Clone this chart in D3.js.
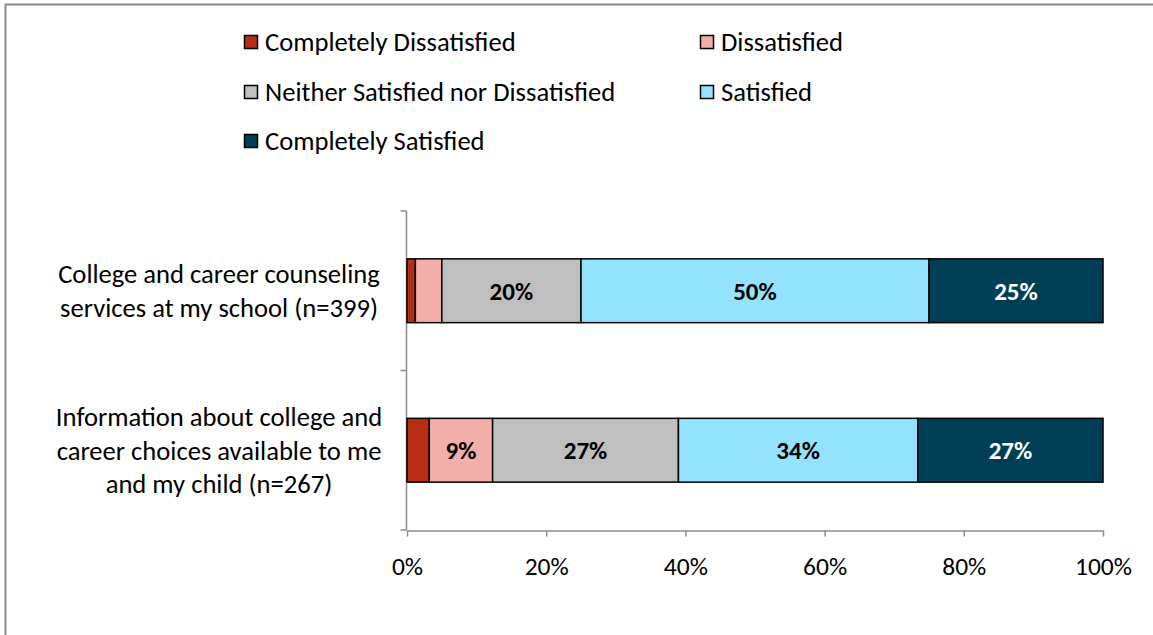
<!DOCTYPE html>
<html><head><meta charset="utf-8">
<script src="https://cdn.jsdelivr.net/npm/d3@7"></script>
<style>body{margin:0;background:#fff}svg{display:block}text{font-family:Carlito,Calibri,Lato,sans-serif}</style>
</head><body><svg id="c" width="1153" height="635"></svg>
<script>
const categories = ["College and career counseling services at my school (n=399)",
  "Information about college and career choices available to me and my child (n=267)"];
const categoryLines = [["College and career counseling","services at my school (n=399)"],
  ["Information about college and","career choices available to me","and my child (n=267)"]];
const seriesNames = ["Completely Dissatisfied","Dissatisfied","Neither Satisfied nor Dissatisfied","Satisfied","Completely Satisfied"];
const seriesColors = ["#B82E12","#F2AFA9","#BFBFBF","#93E3FC","#003F56"];
const labelColors = ["#000","#000","#000","#000","#fff"];
const completelyDissatisfied = [1.2, 3.2];
const dissatisfied = [3.8, 9.1];
const neither = [20.0, 26.7];
const satisfied = [50.0, 34.4];
const completelySatisfied = [25.0, 26.6];
const xTicks = [0,20,40,60,80,100];

const values = [completelyDissatisfied, dissatisfied, neither, satisfied, completelySatisfied];
const rows = categories.map((c,i)=>{const o={cat:c}; seriesNames.forEach((s,j)=>o[s]=values[j][i]); return o;});
const stacked = d3.stack().keys(seriesNames)(rows);

const svg = d3.select("#c");
svg.append("rect").attr("x",5.5).attr("y",4.5).attr("width",1200).attr("height",700)
  .attr("fill","none").attr("stroke","#8c8c8c").attr("stroke-width",2);

const x = d3.scaleLinear().domain([0,100]).range([407,1103]);
const y = d3.scaleBand().domain(categories).range([211,530]).paddingInner(0.6).paddingOuter(0.3);

// axes
const xAxis = d3.axisBottom(x).tickValues(xTicks).tickFormat(d=>d+"%").tickSize(6).tickSizeOuter(0);
const gx = svg.append("g").attr("transform","translate(0,530.5)").call(xAxis);
gx.select(".domain").attr("stroke","#8c8c8c").attr("stroke-width",1.5);
gx.selectAll(".tick line").attr("stroke","#8c8c8c").attr("stroke-width",1.5);
gx.selectAll(".tick text").attr("fill","#000").style("font-size","25.5px").attr("dy","0.35em").attr("y",36);

const yb = d3.scaleLinear().domain([0,categories.length]).range([211,530]);
const gy = svg.append("g").attr("transform","translate(406.5,0)");
gy.append("line").attr("y1",211).attr("y2",530).attr("stroke","#8c8c8c").attr("stroke-width",1.5);
gy.selectAll("line.t").data(d3.range(categories.length+1)).join("line").attr("class","t")
  .attr("x1",-6).attr("x2",0).attr("y1",d=>yb(d)).attr("y2",d=>yb(d)).attr("stroke","#8c8c8c").attr("stroke-width",1.5);

// bars
stacked.forEach((layer,j)=>{
  const g = svg.append("g");
  g.selectAll("rect").data(layer).join("rect")
    .attr("x",d=>x(d[0])).attr("y",d=>y(d.data.cat)).attr("width",d=>x(d[1])-x(d[0]))
    .attr("height",y.bandwidth()).attr("fill",seriesColors[j]).attr("stroke","#000").attr("stroke-width",1.5);
  g.selectAll("text").data(layer.filter(d=>d[1]-d[0]>=5)).join("text")
    .attr("x",d=>(x(d[0])+x(d[1]))/2).attr("y",d=>y(d.data.cat)+y.bandwidth()/2)
    .attr("text-anchor","middle").attr("dy","0.35em").attr("fill",labelColors[j])
    .style("font-size","25px").style("font-weight","bold").text(d=>Math.round(d[1]-d[0])+"%");
});

// category labels
categories.forEach((c,i)=>{
  const lines = categoryLines[i];
  const cy = y(c)+y.bandwidth()/2;
  const lh = 33.5;
  const t = svg.append("text").attr("text-anchor","middle").style("font-size","26.6px").attr("fill","#000");
  lines.forEach((l,k)=>t.append("tspan").attr("x",219).attr("y",cy+(k-(lines.length-1)/2)*lh).attr("dy","0.35em").text(l));
});

// legend
const legPos = [[244,42],[700,42],[244,92],[700,92],[244,141]];
seriesNames.forEach((s,j)=>{
  const g = svg.append("g").attr("transform",`translate(${legPos[j][0]},${legPos[j][1]})`);
  g.append("rect").attr("x",0.5).attr("y",-6.5).attr("width",13).attr("height",13)
    .attr("fill",seriesColors[j]).attr("stroke","#000").attr("stroke-width",1.5);
  g.append("text").attr("x",21).attr("y",0).attr("dy","0.35em").style("font-size","26.6px").text(s);
});
</script></body></html>
